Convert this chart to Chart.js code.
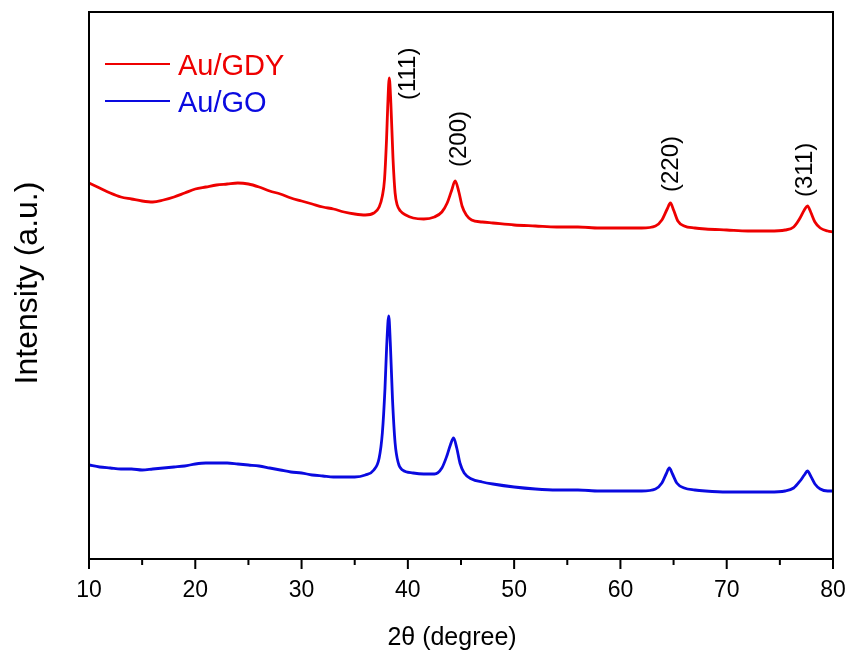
<!DOCTYPE html>
<html>
<head>
<meta charset="utf-8">
<title>XRD Au/GDY vs Au/GO</title>
<script src="https://cdn.jsdelivr.net/npm/chart.js@4.4.0/dist/chart.umd.min.js"></script>
<style>
  html, body { margin: 0; padding: 0; background: #fff; }
  canvas { display: block; }
</style>
</head>
<body>
<canvas id="xrd" width="850" height="654"></canvas>
<script>
// 2θ (degree) and intensity (a.u.) of each pattern
const gdyAngle = [10, 11, 12, 13, 14, 15, 16, 17, 18, 19, 20, 21, 22, 23, 24, 25, 26, 27, 28, 29, 30,
    31, 32, 33, 34, 35, 36, 36.8, 37.3, 37.6, 37.8, 38.0, 38.1, 38.25, 38.4, 38.6, 38.8, 39.0, 39.3, 39.8,
    40.5, 41.5, 42.5, 43.2, 43.7, 44.1, 44.45, 44.8, 45.1, 45.5, 46, 47, 48, 50, 52, 54, 56, 58, 60, 62,
    63.3, 63.9, 64.4, 64.7, 65.0, 65.4, 66, 67, 68, 70, 72, 74, 75.5, 76.3, 76.9, 77.3, 77.6, 77.9, 78.3,
    78.8, 79.5, 80];
const gdyCounts = [375, 370, 365, 361, 359, 357, 356, 358, 361, 365, 369, 371, 373, 374, 375, 374, 371, 367, 364, 360, 357,
    354, 351, 349, 346, 344, 343, 345, 351, 362, 378, 420, 450, 480, 455, 400, 365, 353, 347, 343,
    340, 339, 341, 346, 355, 367, 377, 366, 352, 343, 338, 336, 335, 333, 332, 331, 331, 330, 330, 330,
    332, 338, 349, 355, 348, 337, 332, 330, 329, 328, 327, 327, 328, 331, 340, 348, 352, 346, 336,
    330, 327, 326];

const goAngle = [10, 11, 12, 13, 14, 15, 16, 17, 18, 19, 20, 21, 22, 23, 24, 25, 26, 27, 28, 29, 30,
    31, 32, 33, 34, 35, 36, 36.8, 37.3, 37.6, 37.85, 38.0, 38.2, 38.35, 38.55, 38.8, 39.1, 39.5,
    40.5, 41.5, 42.5, 43.2, 43.7, 44.0, 44.3, 44.6, 44.9, 45.3, 46, 47, 48, 50, 52, 54, 56, 58, 60, 62,
    63.3, 63.9, 64.3, 64.6, 64.9, 65.3, 66, 67, 68, 70, 72, 74, 75.5, 76.3, 76.9, 77.3, 77.6, 77.9, 78.3,
    78.8, 79.5, 80];
const goCounts = [93, 91, 90, 89, 89, 88, 89, 90, 91, 92, 94, 95, 95, 95, 94, 93, 92, 90, 88, 86, 85,
    83, 82, 81, 81, 81, 83, 88, 100, 125, 170, 210, 242, 215, 160, 115, 95, 88,
    85, 84, 84, 90, 103, 113, 120, 110, 95, 85, 79, 76, 74, 71, 69, 68, 68, 67, 67, 67,
    69, 75, 84, 90, 84, 75, 70, 68, 67, 66, 66, 66, 67, 70, 77, 83, 87, 82, 74,
    69, 67, 67];

const xTicks = [10, 20, 30, 40, 50, 60, 70, 80];
const xMinorTicks = [15, 25, 35, 45, 55, 65, 75];

// Au reflections, placed above the Au/GDY peaks
const hklLabels = ['(111)', '(200)', '(220)', '(311)'];
const hklAngle = [40.05, 44.86, 64.83, 77.36];
const hklLevel = [458, 391, 366, 361];

const toPoints = (xs, ys) => xs.map((x, i) => ({ x: x, y: ys[i] }));

const FONT = "'Liberation Sans', Arial, sans-serif";

const framePlugin = {
    id: 'frameAndText',
    afterDraw(chart) {
        const { ctx, chartArea: a, scales } = chart;
        const xs = scales.x, ys = scales.y;
        ctx.save();

        // box
        ctx.strokeStyle = '#000';
        ctx.lineWidth = 2;
        ctx.strokeRect(a.left, a.top, a.right - a.left, a.bottom - a.top);

        // outward ticks and labels on the bottom axis
        ctx.beginPath();
        xTicks.forEach(v => {
            const px = xs.getPixelForValue(v);
            ctx.moveTo(px, a.bottom);
            ctx.lineTo(px, a.bottom + 10);
        });
        xMinorTicks.forEach(v => {
            const px = xs.getPixelForValue(v);
            ctx.moveTo(px, a.bottom);
            ctx.lineTo(px, a.bottom + 6);
        });
        ctx.stroke();

        ctx.fillStyle = '#000';
        ctx.font = '23px ' + FONT;
        ctx.textAlign = 'center';
        ctx.textBaseline = 'alphabetic';
        xTicks.forEach(v => {
            ctx.fillText(String(v), xs.getPixelForValue(v), a.bottom + 38);
        });

        // axis titles
        ctx.font = '25px ' + FONT;
        ctx.fillText('2\u03b8 (degree)', 452, 645);

        ctx.save();
        ctx.translate(37, 283);
        ctx.rotate(-Math.PI / 2);
        ctx.font = '32px ' + FONT;
        ctx.fillText('Intensity (a.u.)', 0, 0);
        ctx.restore();

        // hkl labels
        ctx.font = '24px ' + FONT;
        ctx.textAlign = 'left';
        ctx.textBaseline = 'middle';
        hklLabels.forEach((t, i) => {
            ctx.save();
            ctx.translate(xs.getPixelForValue(hklAngle[i]), ys.getPixelForValue(hklLevel[i]));
            ctx.rotate(-Math.PI / 2);
            ctx.fillText(t, 0, 0);
            ctx.restore();
        });

        // legend
        ctx.font = '29px ' + FONT;
        ctx.textBaseline = 'alphabetic';
        chart.data.datasets.forEach((ds, i) => {
            const ly = 64 + i * 37;
            ctx.strokeStyle = ds.borderColor;
            ctx.lineWidth = 2;
            ctx.beginPath();
            ctx.moveTo(105, ly);
            ctx.lineTo(170, ly);
            ctx.stroke();
            ctx.fillStyle = ds.borderColor;
            ctx.fillText(ds.label, 178, ly + 11);
        });

        ctx.restore();
    }
};

new Chart(document.getElementById('xrd'), {
    type: 'line',
    data: {
        datasets: [
            {
                label: 'Au/GDY',
                data: toPoints(gdyAngle, gdyCounts),
                borderColor: '#ee0000',
                borderWidth: 2.8,
                pointRadius: 0,
                cubicInterpolationMode: 'monotone'
            },
            {
                label: 'Au/GO',
                data: toPoints(goAngle, goCounts),
                borderColor: '#0a0ae0',
                borderWidth: 2.8,
                pointRadius: 0,
                cubicInterpolationMode: 'monotone'
            }
        ]
    },
    options: {
        responsive: false,
        animation: false,
        devicePixelRatio: 1,
        layout: { padding: { top: 12, right: 17, left: 0, bottom: 0 } },
        plugins: {
            legend: { display: false },
            tooltip: { enabled: false }
        },
        scales: {
            x: {
                type: 'linear',
                min: 10,
                max: 80,
                afterBuildTicks: s => { s.ticks = xTicks.map(v => ({ value: v })); },
                afterFit: s => { s.height = 95; },
                grid: { display: false, drawTicks: false },
                border: { display: false },
                ticks: { display: false }
            },
            y: {
                min: -1,
                max: 546,
                afterFit: s => { s.width = 89; },
                grid: { display: false, drawTicks: false },
                border: { display: false },
                ticks: { display: false }
            }
        }
    },
    plugins: [framePlugin]
});
</script>
</body>
</html>
